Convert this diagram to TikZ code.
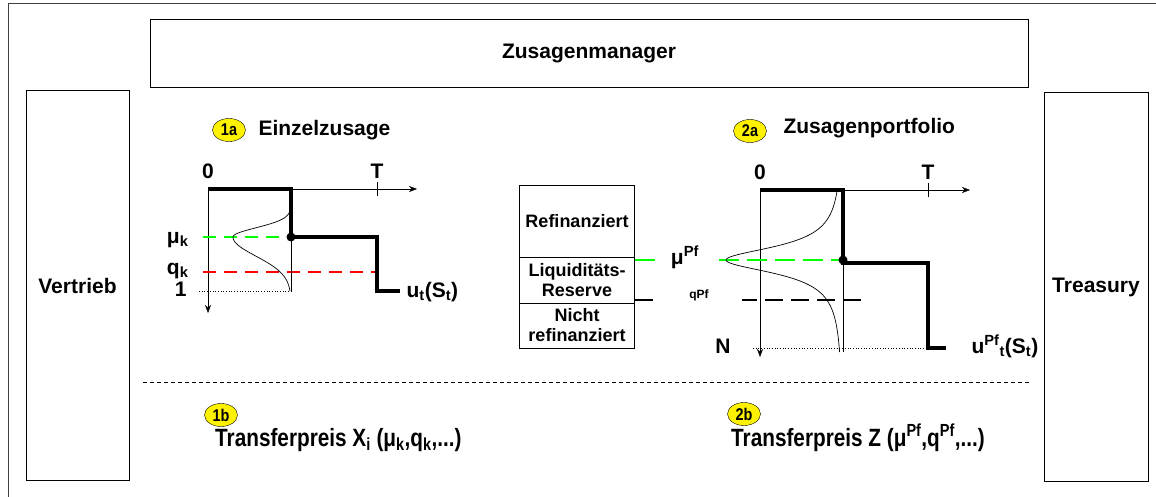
\documentclass[tikz,border=0pt]{standalone}
\usepackage{fontspec}
\setmainfont{Liberation Sans}
\usetikzlibrary{shapes.geometric,arrows.meta}

\begin{document}
\begin{tikzpicture}[x=1pt,y=-1pt,>={Stealth[length=8pt,width=6pt]},
    lbl/.style={font=\fontsize{21}{23}\selectfont\bfseries},
    stacktext/.style={font=\fontsize{18}{20}\selectfont\bfseries,align=center,inner sep=1pt},
    badge/.style={ellipse,draw,fill=yellow,inner sep=0pt,minimum width=33,minimum height=23,font=\fontsize{17}{17}\selectfont\bfseries},
    frame/.style={draw,line width=1pt},
    stepline/.style={line width=4pt},
    tail/.style={line width=.7pt}]
    \useasboundingbox (0,0) rectangle (1156,497);
    \draw[line width=1pt,black!75] (8,4) rectangle (1180,520);

    % Rahmen
    \node[frame,lbl,minimum width=878,minimum height=68] (manager) at (589,54) {Zusagenmanager};
    \node[frame,lbl,minimum width=103,minimum height=389] (vertrieb) at (77.5,285.5) {Vertrieb};
    \node[frame,lbl,minimum width=104,minimum height=388] (treasury) at (1096,287) {Treasury};
    \draw[dash pattern=on 4pt off 3pt] (143,382) -- (1030,382);

    % 1a Einzelzusage
    \node[badge] (b1a) at (229,130) {\scalebox{.85}[1]{1a}};
    \node[lbl,anchor=west] (h1a) at (255,130) {Einzelzusage};
    \draw[->] (208,189) -- (417,189);
    \draw[->] (208,189) -- (208,313);
    \draw (377,182) -- (377,196);
    \node[lbl] (o1) at (208,171) {0};
    \node[lbl] (T1) at (377,171) {T};
    \draw[green,line width=1.5pt,dash pattern=on 13pt off 8pt] (203,237) -- (291,237);
    \draw[red,line width=1.5pt,dash pattern=on 13pt off 8pt] (203,272) -- (377,272);
    \draw[dotted,tail] (199,291) -- (291,291);
    \draw[tail,domain=189:237,samples=60] plot ({291-58*exp(-((\x-237)/13)*((\x-237)/13))},\x);
    \draw[tail,domain=237:291,samples=60] plot ({291-58*exp(-((\x-237)/27)*((\x-237)/27))},\x);
    \draw[tail] (291,189) -- (291,291);
    \draw[stepline] (208,189) -- (291,189) -- (291,237) -- (377,237) -- (377,291) -- (400,291);
    \fill (291,237) circle (4.5);
    \node[lbl,anchor=base east] (mu1) at (192,243) {μ\textsubscript{k}};
    \node[lbl,anchor=base east] (q1) at (192,274) {q\textsubscript{k}};
    \node[lbl,anchor=base east] (one1) at (190,296) {1};
    \node[lbl,anchor=base west] (u1) at (403,297) {u\textsubscript{t}(S\textsubscript{t})};

    % Refinanzierung
    \node[frame,stacktext,minimum width=115,minimum height=71] (refi) at (577,221.5) {Refinanziert};
    \node[frame,stacktext,minimum width=115,minimum height=46] (reserve) at (577,280) {Liquiditäts-\\Reserve};
    \node[frame,stacktext,minimum width=115,minimum height=45] (nicht) at (577,325.5) {Nicht\\refinanziert};

    % 2a Zusagenportfolio
    \node[badge] (b2a) at (750,131) {\scalebox{.85}[1]{2a}};
    \node[lbl,anchor=west] (h2a) at (780,128) {Zusagenportfolio};
    \draw[->] (760,190) -- (970,190);
    \draw[->] (760,190) -- (760,357);
    \draw (928,183) -- (928,197);
    \node[lbl] (o2) at (760,172) {0};
    \node[lbl] (T2) at (928,172) {T};
    \draw[green,line width=1.5pt,dash pattern=on 20pt off 8pt] (635,260) -- (843,260);
    \draw[line width=1.5pt,dash pattern=on 18pt off 8pt] (635,300) -- (864,300);
    \node[lbl,fill=white,inner sep=1pt,minimum width=55,anchor=base] (mu2) at (685,264) {μ\textsuperscript{Pf}};
    \node[fill=white,inner sep=1pt,minimum width=86,anchor=base,font=\fontsize{12}{12}\selectfont\bfseries] (q2) at (699,298) {qPf};
    \draw[dotted,tail] (753,348) -- (928,348);
    \draw[tail,domain=190:352,samples=160] plot ({843-117/(1+((\x-260)/16)*((\x-260)/16))},\x);
    \draw[tail] (843,190) -- (843,352);
    \draw[stepline] (760,190) -- (843,190) -- (843,263) -- (928,263) -- (928,348) -- (946,348);
    \fill (843,260) circle (4.5);
    \node[lbl,anchor=base east] (N2) at (734,353) {N};
    \node[lbl,anchor=base west] (u2) at (968,353) {u\textsuperscript{Pf}\textsubscript{t}(S\textsubscript{t})};

    % 1b / 2b Transferpreise
    \node[badge] (b1b) at (221,415) {\scalebox{.85}[1]{1b}};
    \node[lbl,anchor=base west,inner sep=0pt,font=\fontsize{25}{28}\selectfont\bfseries] (x1b) at (215,446) {\scalebox{.83}[1]{Transferpreis X\textsubscript{i} (μ\textsubscript{k},q\textsubscript{k},...)}};
    \node[badge] (b2b) at (744,414) {\scalebox{.85}[1]{2b}};
    \node[lbl,anchor=base west,inner sep=0pt,font=\fontsize{25}{28}\selectfont\bfseries] (x2b) at (731,446) {\scalebox{.83}[1]{Transferpreis Z (μ\textsuperscript{Pf},q\textsuperscript{Pf},...)}};
\end{tikzpicture}
\end{document}
